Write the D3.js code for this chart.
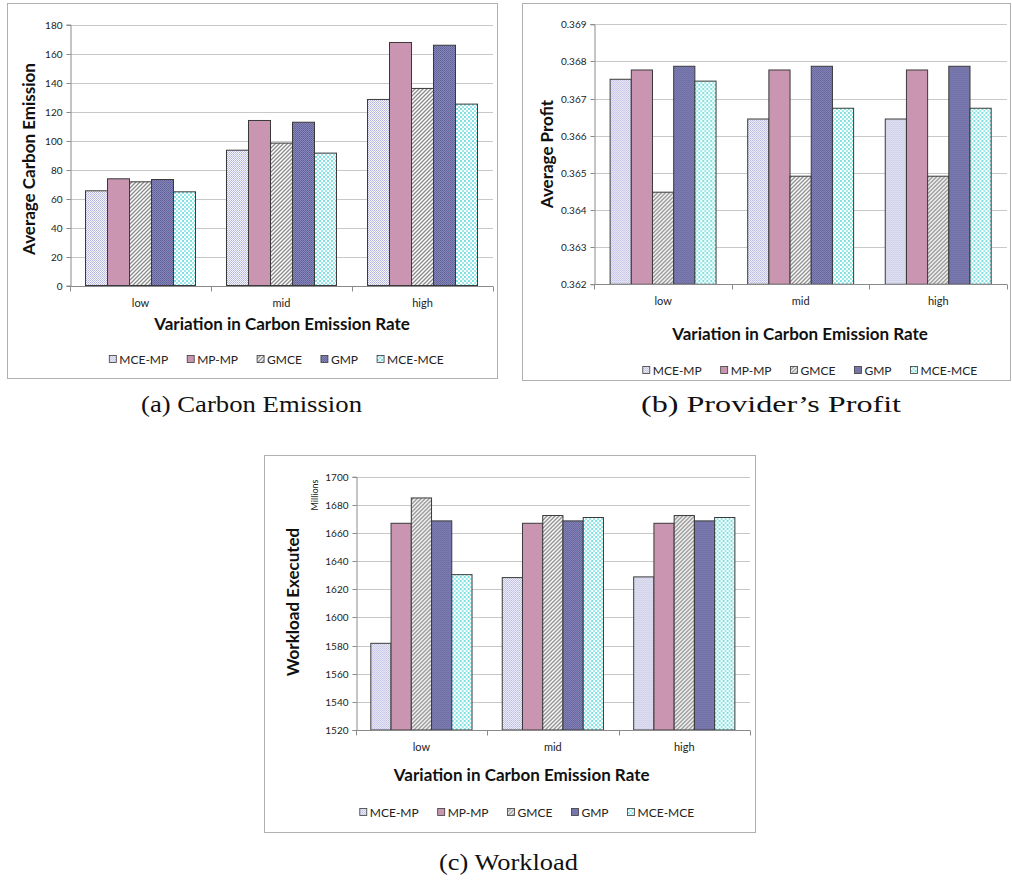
<!DOCTYPE html>
<html><head><meta charset="utf-8">
<script src="https://cdn.jsdelivr.net/npm/d3@7"></script>
<style>body{margin:0;background:#fff}</style>
</head><body>
<svg id="chart" width="1012" height="890"></svg>
<script>
// ---------- data ----------
const categories = ["low", "mid", "high"];
const seriesNames = ["MCE-MP", "MP-MP", "GMCE", "GMP", "MCE-MCE"];

// one row per series, one value per category (low, mid, high)
const carbonEmission = [
  [65.3, 93.3, 128.3],
  [73.6, 113.8, 167.6],
  [71.5, 98.2, 135.9],
  [73.1, 112.6, 165.7],
  [64.6, 91.3, 125.1]
];
const averageProfit = [
  [0.36752, 0.36645, 0.36645],
  [0.36777, 0.36777, 0.36777],
  [0.36448, 0.36491, 0.36491],
  [0.36787, 0.36787, 0.36787],
  [0.36747, 0.36674, 0.36674]
];
const workloadExecuted = [
  [1581.6, 1628.3, 1628.8],
  [1666.9, 1666.9, 1666.9],
  [1684.9, 1672.4, 1672.4],
  [1668.6, 1668.6, 1668.6],
  [1630.4, 1671.0, 1671.0]
];
const emissionTicks = [0, 20, 40, 60, 80, 100, 120, 140, 160, 180];
const profitTicks = [0.362, 0.363, 0.364, 0.365, 0.366, 0.367, 0.368, 0.369];
const workloadTicks = [1520, 1540, 1560, 1580, 1600, 1620, 1640, 1660, 1680, 1700];

// ---------- drawing ----------
const svg = d3.select("#chart");
const defs = svg.append("defs");
const SANS = "Lato, 'Open Sans', sans-serif";
const SERIF = "'Liberation Serif', 'DejaVu Serif', serif";

function pat(id, size, build) {
  const p = defs.append("pattern").attr("id", id).attr("patternUnits", "userSpaceOnUse")
    .attr("width", size).attr("height", size);
  build(p);
}
pat("pMCEMP", 2, p => {
  p.append("rect").attr("width", 2).attr("height", 2).attr("fill", "#f4f4fb");
  p.append("rect").attr("width", 1).attr("height", 1).attr("fill", "#b4b4dc");
  p.append("rect").attr("x", 1).attr("y", 1).attr("width", 1).attr("height", 1).attr("fill", "#c4c4e4");
});
pat("pMPMP", 4, p => {
  p.append("rect").attr("width", 4).attr("height", 4).attr("fill", "#c995b0");
});
pat("pGMCE", 4, p => {
  p.append("rect").attr("width", 4).attr("height", 4).attr("fill", "#ffffff");
  p.append("path").attr("d", "M-1,5 L5,-1 M-1,1 L1,-1 M3,5 L5,3").attr("stroke", "#8a8a8a").attr("stroke-width", 1.3);
});
pat("pGMP", 2, p => {
  p.append("rect").attr("width", 2).attr("height", 2).attr("fill", "#8585b8");
  p.append("rect").attr("width", 1).attr("height", 1).attr("fill", "#62629a");
  p.append("rect").attr("x", 1).attr("y", 1).attr("width", 1).attr("height", 1).attr("fill", "#6a6aa2");
});
pat("pMCEMCE", 4, p => {
  p.append("rect").attr("width", 4).attr("height", 4).attr("fill", "#ffffff");
  p.append("rect").attr("width", 2).attr("height", 2).attr("fill", "#7ee0e0");
  p.append("rect").attr("x", 2).attr("y", 2).attr("width", 2).attr("height", 2).attr("fill", "#9ae8e8");
});
const fills = ["url(#pMCEMP)", "url(#pMPMP)", "url(#pGMCE)", "url(#pGMP)", "url(#pMCEMCE)"];
const color = d3.scaleOrdinal().domain(seriesNames).range(fills);

function panel(cfg) {
  const g = svg.append("g");
  // frame
  g.append("rect").attr("x", cfg.frame[0] + 0.5).attr("y", cfg.frame[1] + 0.5)
    .attr("width", cfg.frame[2] - cfg.frame[0]).attr("height", cfg.frame[3] - cfg.frame[1])
    .attr("fill", "none").attr("stroke", "#b0b0b0");

  const x0 = d3.scaleBand().domain(categories).range([cfg.left, cfg.right]).padding(0);
  const bw = x0.bandwidth();
  const gap = bw * cfg.gapFrac;
  const x1 = d3.scaleBand().domain(seriesNames).range([gap / 2, bw - gap / 2]).padding(0);
  const y = d3.scaleLinear().domain(cfg.domain).range([cfg.bottom, cfg.top]);

  // gridlines
  g.append("g").selectAll("line").data(cfg.ticks.slice(1)).join("line")
    .attr("x1", cfg.left).attr("x2", cfg.right)
    .attr("y1", d => Math.round(y(d)) + 0.5).attr("y2", d => Math.round(y(d)) + 0.5)
    .attr("stroke", "#c8c8c8");

  // y axis
  const ya = g.append("g").attr("transform", `translate(${Math.round(cfg.left) + 0.5},0)`)
    .call(d3.axisLeft(y).tickValues(cfg.ticks).tickSize(4).tickPadding(4).tickFormat(cfg.fmt));
  ya.select(".domain").attr("stroke", "#8a8a8a");
  ya.selectAll(".tick line").attr("stroke", "#8a8a8a");
  ya.selectAll(".tick text").attr("font-family", SANS).attr("font-size", 10).attr("fill", "#222");
  ya.selectAll(".tick").attr("transform", d => `translate(0,${Math.round(y(d)) + 0.5})`);

  // bars
  const rows = categories.map((c, ci) => ({ c, vals: seriesNames.map((s, si) => ({ s, v: cfg.data[si][ci] })) }));
  g.append("g").selectAll("g").data(rows).join("g")
    .attr("transform", d => `translate(${x0(d.c)},0)`)
    .selectAll("rect").data(d => d.vals).join("rect")
    .attr("x", d => x1(d.s)).attr("width", x1.bandwidth())
    .attr("y", d => y(d.v)).attr("height", d => y(cfg.domain[0]) - y(d.v))
    .attr("fill", d => color(d.s)).attr("stroke", "#3a3a3a").attr("stroke-width", 1);

  // x axis
  const xa = g.append("g").attr("transform", `translate(0,${Math.round(cfg.bottom) + 0.5})`);
  xa.append("line").attr("x1", cfg.left).attr("x2", cfg.right).attr("stroke", "#8a8a8a");
  const bounds = categories.map(c => x0(c)).concat([cfg.right]);
  xa.selectAll("line.t").data(bounds).join("line").attr("class", "t")
    .attr("x1", d => Math.round(d) + 0.5).attr("x2", d => Math.round(d) + 0.5)
    .attr("y1", 0).attr("y2", 5).attr("stroke", "#8a8a8a");
  xa.selectAll("text").data(categories).join("text")
    .attr("x", d => x0(d) + bw / 2).attr("y", cfg.catY - cfg.bottom)
    .attr("text-anchor", "middle").attr("font-family", SANS).attr("font-size", 11).attr("fill", "#222")
    .text(d => d);

  // titles
  g.append("text").attr("x", cfg.xTitle[0]).attr("y", cfg.xTitle[1])
    .attr("text-anchor", "middle").attr("font-family", SANS).attr("font-weight", "bold")
    .attr("font-size", 17).attr("fill", "#111").text("Variation in Carbon Emission Rate");
  g.append("text").attr("transform", `translate(${cfg.yTitle[0]},${cfg.yTitle[1]}) rotate(-90)`)
    .attr("text-anchor", "middle").attr("font-family", SANS).attr("font-weight", "bold")
    .attr("font-size", 17).attr("fill", "#111").text(cfg.yLabel);
  if (cfg.unit) {
    g.append("text").attr("transform", `translate(${cfg.unit[0]},${cfg.unit[1]}) rotate(-90)`)
      .attr("text-anchor", "middle").attr("font-family", SANS).attr("font-size", 9).attr("fill", "#222")
      .text(cfg.unit[2]);
  }

  // legend
  const lg = g.append("g");
  const items = lg.selectAll("g").data(seriesNames).join("g");
  items.append("rect").attr("width", 7).attr("height", 7).attr("y", -3.5)
    .attr("fill", d => color(d)).attr("stroke", "#3a3a3a").attr("stroke-width", 0.8);
  items.append("text").attr("x", 10).attr("y", 4.5).attr("font-family", SANS).attr("font-size", 12)
    .attr("fill", "#222").text(d => d);
  const spacing = 19;
  let cx = 0;
  items.each(function () {
    const w = d3.select(this).select("text").node().getComputedTextLength();
    d3.select(this).attr("transform", `translate(${cx},0)`);
    cx += 10 + w + spacing;
  });
  const total = cx - spacing;
  lg.attr("transform", `translate(${cfg.legend[0] - total / 2},${cfg.legend[1]})`);

  // caption
  svg.append("text").attr("x", cfg.caption[0]).attr("y", cfg.caption[1]).attr("text-anchor", "middle")
    .attr("font-family", SERIF).attr("font-size", 24).attr("fill", "#111")
    .attr("textLength", cfg.caption[3]).attr("lengthAdjust", "spacingAndGlyphs")
    .text(cfg.caption[2]);
}

panel({
  frame: [7, 3, 497, 378], left: 70, right: 493, top: 24.5, bottom: 285.5, gapFrac: 0.22,
  domain: [0, 180], ticks: emissionTicks, fmt: d3.format("d"), data: carbonEmission,
  catY: 306, xTitle: [282, 330], yTitle: [35, 159], yLabel: "Average Carbon Emission",
  legend: [276.5, 359], caption: [251.5, 412, "(a) Carbon Emission", 221]
});
panel({
  frame: [522, 3, 1010, 380], left: 594.3, right: 1007, top: 24.3, bottom: 284.3, gapFrac: 0.23,
  domain: [0.362, 0.369], ticks: profitTicks, fmt: d3.format(".3f"), data: averageProfit,
  catY: 305, xTitle: [800, 340], yTitle: [553, 154], yLabel: "Average Profit",
  legend: [810, 370], caption: [771, 412, "(b) Provider\u2019s Profit", 260]
});
panel({
  frame: [264, 455, 755, 832], left: 355.7, right: 750, top: 476.7, bottom: 730, gapFrac: 0.23,
  domain: [1520, 1700], ticks: workloadTicks, fmt: d3.format("d"), data: workloadExecuted,
  catY: 750, xTitle: [521.7, 781], yTitle: [299, 602], yLabel: "Workload Executed",
  unit: [318, 495, "Millions"],
  legend: [527, 812], caption: [508.5, 870, "(c) Workload", 139]
});
</script>
</body></html>
